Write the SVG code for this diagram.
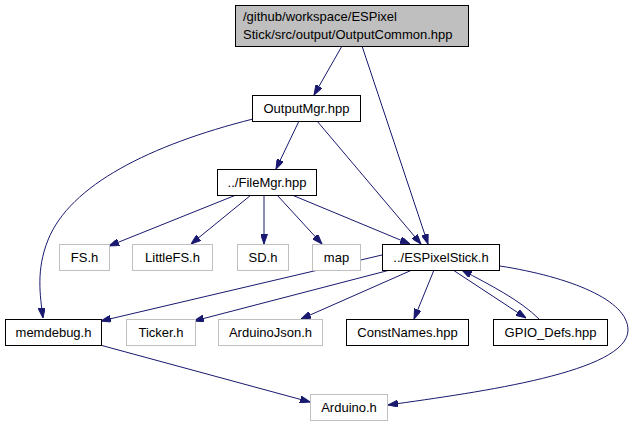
<svg xmlns="http://www.w3.org/2000/svg" width="634" height="425" viewBox="0 0 634 425">
<style>
  .n rect { fill: #ffffff; stroke: #000000; stroke-width: 1; }
  .x rect { fill: #ffffff; stroke: #bfbfbf; stroke-width: 1; }
  .root rect { fill: #bfbfbf; stroke: #000000; stroke-width: 1; }
  text { font-family: "Liberation Sans", Arial, sans-serif; font-size: 13px; fill: #000000; }
  .c { text-anchor: middle; }
  #edges path { fill: none; stroke: #191970; stroke-width: 1; marker-end: url(#ah); }
</style>
<defs>
  <marker id="ah" viewBox="0 0 10 7" refX="10" refY="3.5" markerWidth="10" markerHeight="7" markerUnits="userSpaceOnUse" orient="auto">
    <path d="M0,0 L10,3.5 L0,7 Z" fill="#191970" stroke="#191970" stroke-width="1"/>
  </marker>
</defs>
<rect width="634" height="425" fill="#ffffff"/>
<g id="edges">
  <path d="M342,46 L314,95"/>
  <path d="M362,46 L428,244"/>
  <path d="M299,121 L276,169"/>
  <path d="M317,121 L421,244"/>
  <path d="M253,119 C150,145 70,185 48,240 C36,270 40,295 43,318"/>
  <path d="M236,195 L109,246"/>
  <path d="M251,195 L191,244"/>
  <path d="M264,195 L264,244"/>
  <path d="M277,195 L322,244"/>
  <path d="M292,195 L410,244"/>
  <path d="M382,255 L101,321"/>
  <path d="M390,270 L194,321"/>
  <path d="M412,270 L301,319"/>
  <path d="M434,270 L414,319"/>
  <path d="M453,270 L526,318"/>
  <path d="M539,319 C520,300 490,285 462,270"/>
  <path d="M500,266 C570,277 628,300 628,330 C628,372 480,392 388,405"/>
  <path d="M100,345 L310,402"/>
</g>
<g id="node-root" class="root">
  <rect x="235.5" y="5.5" width="233" height="41"/>
  <text x="243" y="21">/github/workspace/ESPixel</text>
  <text x="243" y="39">Stick/src/output/OutputCommon.hpp</text>
</g>
<g id="node-outputmgr" class="n">
  <rect x="252.5" y="95.5" width="108" height="26"/>
  <text class="c" x="306.5" y="113">OutputMgr.hpp</text>
</g>
<g id="node-filemgr" class="n">
  <rect x="217.5" y="169.5" width="99" height="26"/>
  <text class="c" x="267" y="187">../FileMgr.hpp</text>
</g>
<g id="node-fs" class="x">
  <rect x="59.5" y="244.5" width="50" height="26"/>
  <text class="c" x="84.5" y="262">FS.h</text>
</g>
<g id="node-littlefs" class="x">
  <rect x="132.5" y="244.5" width="80" height="26"/>
  <text class="c" x="172.5" y="262">LittleFS.h</text>
</g>
<g id="node-sd" class="x">
  <rect x="237.5" y="244.5" width="51" height="26"/>
  <text class="c" x="263" y="262">SD.h</text>
</g>
<g id="node-map" class="x">
  <rect x="312.5" y="244.5" width="48" height="26"/>
  <text class="c" x="336.5" y="262">map</text>
</g>
<g id="node-espixelstick" class="n">
  <rect x="382.5" y="244.5" width="117" height="26"/>
  <text class="c" x="441" y="262">../ESPixelStick.h</text>
</g>
<g id="node-memdebug" class="n">
  <rect x="5.5" y="319.5" width="96" height="26"/>
  <text class="c" x="53.5" y="337">memdebug.h</text>
</g>
<g id="node-ticker" class="x">
  <rect x="126.5" y="319.5" width="69" height="26"/>
  <text class="c" x="161" y="337">Ticker.h</text>
</g>
<g id="node-arduinojson" class="x">
  <rect x="218.5" y="319.5" width="104" height="26"/>
  <text class="c" x="270.5" y="337">ArduinoJson.h</text>
</g>
<g id="node-constnames" class="n">
  <rect x="346.5" y="319.5" width="122" height="26"/>
  <text class="c" x="407.5" y="337">ConstNames.hpp</text>
</g>
<g id="node-gpiodefs" class="n">
  <rect x="493.5" y="319.5" width="114" height="26"/>
  <text class="c" x="550.5" y="337">GPIO_Defs.hpp</text>
</g>
<g id="node-arduino" class="x">
  <rect x="310.5" y="394.5" width="77" height="26"/>
  <text class="c" x="349" y="412">Arduino.h</text>
</g>
</svg>
